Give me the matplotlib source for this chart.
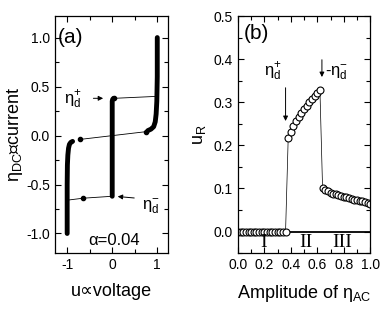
import numpy as np
import matplotlib
matplotlib.use("Agg")
import matplotlib.pyplot as plt
from matplotlib.ticker import MultipleLocator

plt.rcParams['font.family'] = ['Liberation Sans', 'DejaVu Sans']
plt.rcParams['mathtext.fontset'] = 'custom'
plt.rcParams['mathtext.rm'] = 'Liberation Sans'
plt.rcParams['mathtext.it'] = 'Liberation Sans'
plt.rcParams['axes.unicode_minus'] = False

# (a) IV curve branches
left_u = [-1.0, -1.0, -0.995, -0.985, -0.97, -0.95, -0.92, -0.88]
left_eta = [-1.0, -0.5, -0.3, -0.2, -0.13, -0.09, -0.07, -0.06]
mid_u = [0.0, 0.0, 0.01, 0.03]
mid_eta = [-0.62, 0.35, 0.37, 0.38]
right_u = [0.79, 0.86, 0.92, 0.955, 0.975, 0.99, 1.0, 1.0]
right_eta = [0.05, 0.065, 0.09, 0.14, 0.22, 0.35, 0.6, 1.0]
jump_mid_u = [-0.72, 0.76]
jump_mid_eta = [-0.04, 0.04]
jump_top_u = [0.05, 1.0]
jump_top_eta = [0.38, 0.40]
jump_bot_u = [-1.0, -0.65, 0.0]
jump_bot_eta = [-0.66, -0.64, -0.62]
dots_u = [-0.72, 0.76, 0.05, -0.65]
dots_eta = [-0.04, 0.04, 0.38, -0.64]

# (b) u_R versus AC amplitude
amp1 = [0.00, 0.02, 0.04, 0.06, 0.08, 0.10, 0.12, 0.14, 0.16, 0.18,
        0.20, 0.22, 0.24, 0.26, 0.28, 0.30, 0.32, 0.34, 0.36]
ur1 = [0.0] * 19
amp2 = [0.38, 0.40, 0.42, 0.44, 0.46, 0.48, 0.50, 0.52, 0.54, 0.56,
        0.58, 0.60, 0.62]
ur2 = [0.218, 0.232, 0.245, 0.256, 0.266, 0.275, 0.284, 0.292, 0.300,
       0.308, 0.315, 0.322, 0.328]
amp3 = [0.64, 0.66, 0.68, 0.70, 0.72, 0.74, 0.76, 0.78, 0.80, 0.82,
        0.84, 0.86, 0.88, 0.90, 0.92, 0.94, 0.96, 0.98, 1.00]
ur3 = [0.100, 0.096, 0.093, 0.090, 0.088, 0.086, 0.084, 0.082, 0.080,
       0.079, 0.077, 0.076, 0.074, 0.073, 0.071, 0.070, 0.068, 0.066, 0.063]
regions = ['I', 'II', 'III']
region_x = [0.19, 0.515, 0.79]

fig = plt.figure(figsize=(3.82, 3.14), dpi=100)
ax1 = fig.add_axes([0.144, 0.194, 0.296, 0.755])
ax2 = fig.add_axes([0.623, 0.194, 0.346, 0.755])

for ax in (ax1, ax2):
    ax.tick_params(which='both', direction='in', top=True, right=True,
                   labelsize=10, width=0.8)
    ax.tick_params(which='major', length=4)
    ax.tick_params(which='minor', length=3)
    for s in ax.spines.values():
        s.set_linewidth(0.9)

# panel (a)
thick = dict(color='k', lw=3.5, solid_capstyle='round')
ax1.plot(left_u, left_eta, **thick)
ax1.plot(mid_u, mid_eta, **thick)
ax1.plot(right_u, right_eta, **thick)
for xs, ys in [(jump_mid_u, jump_mid_eta), (jump_top_u, jump_top_eta),
               (jump_bot_u, jump_bot_eta)]:
    ax1.plot(xs, ys, color='k', lw=0.6)
ax1.plot(dots_u, dots_eta, 'o', color='k', ms=3, ls='none')
ax1.set_xlim(-1.27, 1.24)
ax1.set_ylim(-1.2, 1.22)
ax1.xaxis.set_major_locator(MultipleLocator(1))
ax1.xaxis.set_minor_locator(MultipleLocator(0.5))
ax1.yaxis.set_major_locator(MultipleLocator(0.5))
ax1.yaxis.set_minor_locator(MultipleLocator(0.25))
ax1.set_yticks([-1.0, -0.5, 0.0, 0.5, 1.0])
ax1.set_yticklabels(['-1.0', '-0.5', '0.0', '0.5', '1.0'])
ax1.set_xlabel('u∝voltage', fontsize=13, labelpad=8)
ax1.set_ylabel(r'η$_{\mathregular{DC}}$∝current', fontsize=13, labelpad=1)
ax1.text(-1.2, 1.0, '(a)', fontsize=15, va='center')
ax1.text(0.05, -1.07, 'α=0.04', fontsize=12, ha='center', va='center')
ax1.annotate('', xy=(-0.14, 0.38), xytext=(-0.48, 0.38),
             arrowprops=dict(arrowstyle='-|>', lw=0.7, color='k',
                             mutation_scale=7))
ax1.text(-1.08, 0.37, r'η$_{\mathregular{d}}^{\mathregular{+}}$', fontsize=12,
         va='center')
ax1.annotate('', xy=(0.06, -0.62), xytext=(0.55, -0.64),
             arrowprops=dict(arrowstyle='-|>', lw=0.7, color='k',
                             mutation_scale=7))
ax1.text(0.65, -0.72, r'η$_{\mathregular{d}}^{\mathregular{-}}$', fontsize=12,
         va='center')

# panel (b)
amp_all = amp1 + amp2 + amp3
ur_all = ur1 + ur2 + ur3
ax2.plot([0.36, 1.0], [0.0, 0.0], color='k', lw=1.3)
ax2.plot(amp_all, ur_all, color='k', lw=0.5)
ax2.plot(amp_all, ur_all, 'o', mfc='white', mec='k', ms=5, mew=0.8,
         ls='none')
ax2.set_xlim(0, 1.0)
ax2.set_ylim(-0.05, 0.5)
ax2.xaxis.set_major_locator(MultipleLocator(0.2))
ax2.xaxis.set_minor_locator(MultipleLocator(0.1))
ax2.yaxis.set_major_locator(MultipleLocator(0.1))
ax2.yaxis.set_minor_locator(MultipleLocator(0.05))
ax2.set_xticks([0, 0.2, 0.4, 0.6, 0.8, 1.0])
ax2.set_xticklabels(['0.0', '0.2', '0.4', '0.6', '0.8', '1.0'])
ax2.set_xlabel(r'Amplitude of η$_{\mathregular{AC}}$', fontsize=13,
               labelpad=8)
ax2.set_ylabel(r'u$_{\mathregular{R}}$', fontsize=13, labelpad=4)
ax2.text(0.04, 0.46, '(b)', fontsize=15, va='center')
for lab, xr in zip(regions, region_x):
    ax2.text(xr, -0.026, lab, fontsize=14, ha='center', va='center',
             family='Liberation Serif')
ax2.annotate('', xy=(0.36, 0.25), xytext=(0.36, 0.34),
             arrowprops=dict(arrowstyle='-|>', lw=0.7, color='k',
                             mutation_scale=7))
ax2.text(0.2, 0.37, r'η$_{\mathregular{d}}^{\mathregular{+}}$', fontsize=12,
         va='center')
ax2.annotate('', xy=(0.635, 0.352), xytext=(0.635, 0.405),
             arrowprops=dict(arrowstyle='-|>', lw=0.7, color='k',
                             mutation_scale=7))
ax2.text(0.66, 0.37, r'-η$_{\mathregular{d}}^{\mathregular{-}}$', fontsize=12,
         va='center')

fig.savefig('out.png', dpi=100)
